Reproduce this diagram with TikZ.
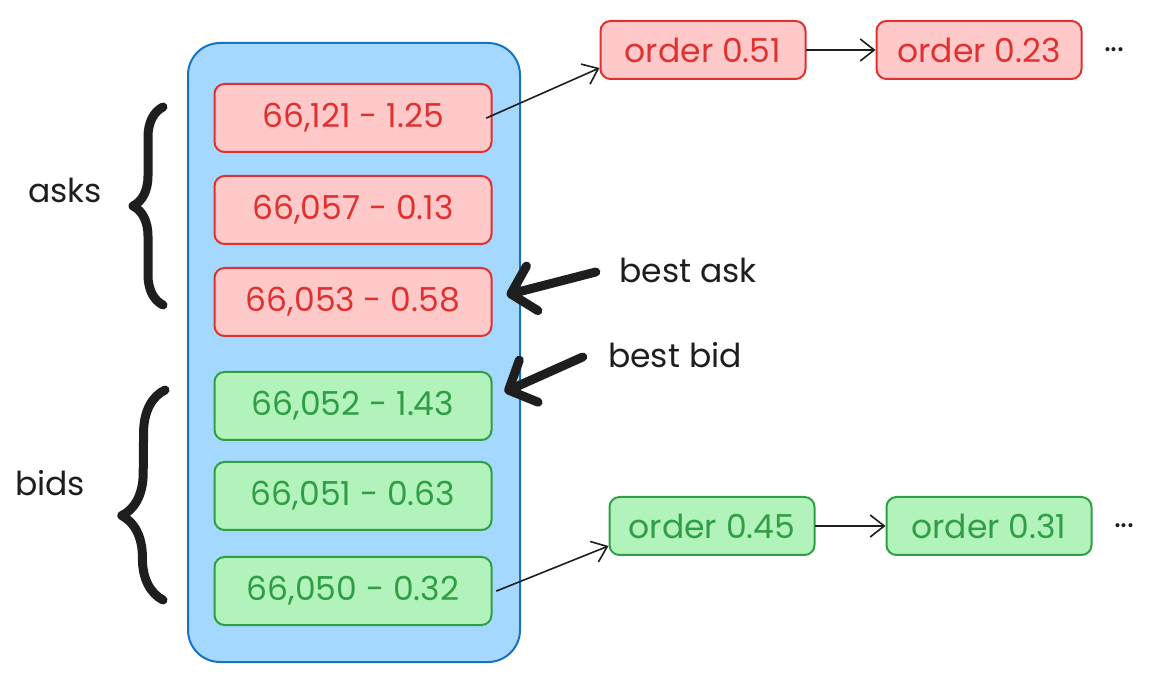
\documentclass[tikz,border=0pt]{standalone}
\usepackage{fontspec}
\setmainfont{Poppins}
\usepackage{xcolor}
\usetikzlibrary{arrows.meta,positioning,decorations.pathreplacing}
\definecolor{askline}{HTML}{E03131}
\definecolor{askfill}{HTML}{FFC9C9}
\definecolor{bidline}{HTML}{2F9E44}
\definecolor{bidfill}{HTML}{B2F2BB}
\definecolor{bookline}{HTML}{1971C2}
\definecolor{bookfill}{HTML}{A5D8FF}
\definecolor{ink}{HTML}{1E1E1E}

\begin{document}
\begin{tikzpicture}[
  x=1pt,y=-1pt,
  node distance=22pt and 69pt,
  every node/.style={font=\fontsize{33}{38}\selectfont,text=ink},
  level/.style={rounded corners=10pt,line width=2pt,minimum width=277pt,minimum height=68pt},
  asklvl/.style={level,draw=askline,fill=askfill,text=askline},
  bidlvl/.style={level,draw=bidline,fill=bidfill,text=bidline},
  askord/.style={asklvl,minimum width=205pt,minimum height=58pt},
  bidord/.style={bidlvl,minimum width=205pt,minimum height=58pt},
  thin/.style={-{Straight Barb[length=14pt,width=22pt]},line width=1.6pt,draw=ink,line cap=round},
  fat/.style={-{Straight Barb[length=22pt,width=46pt,round]},line width=9pt,draw=ink,line cap=round},
  curly/.style={decorate,line width=9pt,draw=ink,line cap=round,line join=round}
]
\useasboundingbox (0,0) rectangle (1163,684);
% order book
\node[draw=bookline,fill=bookfill,line width=2pt,rounded corners=32pt,minimum width=332pt,minimum height=619pt] (book) at (354,352.5) {};
\node[asklvl] (a1) at (353,118) {66,121 - 1.25};
\node[asklvl,below=of a1] (a2) {66,057 - 0.13};
\node[asklvl,below=of a2] (a3) {66,053 - 0.58};
\node[bidlvl,below=34pt of a3] (b1) {66,052 - 1.43};
\node[bidlvl,below=20pt of b1] (b2) {66,051 - 0.63};
\node[bidlvl,below=25pt of b2] (b3) {66,050 - 0.32};
% order queues
\node[askord] (o1) at (703,50) {order 0.51};
\node[askord,right=of o1] (o2) {order 0.23};
\node[right=18pt of o2] (odots) {...};
\node[bidord] (p1) at (712,526) {order 0.45};
\node[bidord,right=70pt of p1] (p2) {order 0.31};
\node[right=18pt of p2] (pdots) {...};
\draw[thin] ([xshift=-6pt]a1.east) -- ([yshift=-18pt]o1.west);
\draw[thin] ([xshift=4pt]b3.east) -- ([yshift=-20pt]p1.west);
\foreach \u/\v in {o1/o2,p1/p2} {\draw[thin](\u)--(\v);}
% best ask / best bid
\node (askl) at (688,270) {best ask};
\node (bidl) at (675,355) {best bid};
\draw[fat] ([xshift=-20pt,yshift=-2pt]askl.west) -- ([xshift=14pt,yshift=7pt]a3.east);
\draw[fat] ([xshift=-22pt,yshift=-2pt]bidl.west) -- ([xshift=12pt,yshift=14pt]b1.east);
% sides
\coordinate (at) at (163,107);
\coordinate (ab) at (163,305);
\coordinate (bt) at (165,390);
\coordinate (bb) at (163,600);
\draw[curly,decoration={brace,amplitude=30pt}] (ab) -- (at);
\draw[curly,decoration={brace,amplitude=42pt,aspect=0.4}] (bb) -- (bt);
\node (asks) at (65,190) {asks};
\node (bids) at (50,483) {bids};
\end{tikzpicture}
\end{document}
